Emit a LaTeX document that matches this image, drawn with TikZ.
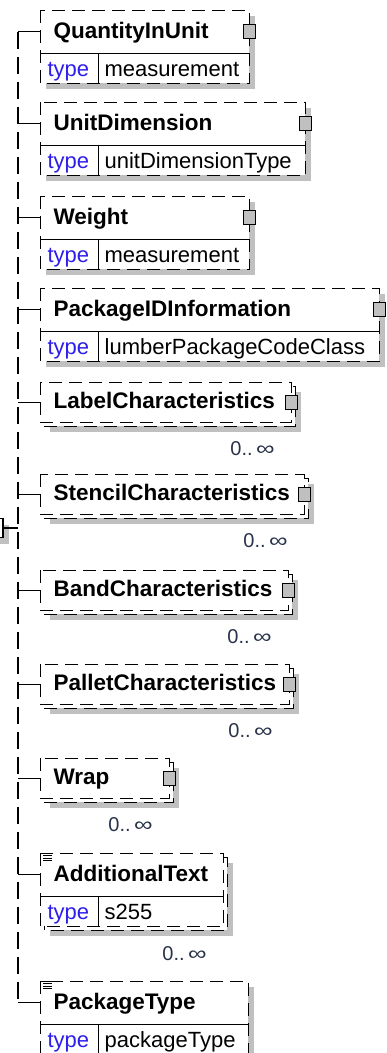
\documentclass[tikz,border=0pt]{standalone}
\usepackage{fontspec}
\setmainfont{Liberation Sans}
\usetikzlibrary{positioning, calc, backgrounds, shadows}
\hyphenpenalty=10000

\definecolor{typeblue}{RGB}{45,30,235}
\definecolor{occslate}{RGB}{40,50,72}
\definecolor{shadegray}{RGB}{192,192,192}

\begin{document}
\begin{tikzpicture}[x=1pt, y=-1pt, line width=1.1pt,
  ttl/.style={anchor=north west, inner xsep=13pt, inner ysep=0pt, text width=#1, align=left,
    minimum height=42pt, text height=17pt, text depth=4pt, font=\bfseries\fontsize{22.5}{27}\selectfont},
  ttlm/.style={ttl=#1, minimum height=39pt},
  tkey/.style={inner xsep=7pt, inner ysep=0pt, text width=43pt, align=left, minimum height=29pt,
    text height=16pt, text depth=0pt, text=typeblue, font=\fontsize{22}{26}\selectfont},
  tval/.style={inner xsep=6pt, inner ysep=0pt, minimum height=29pt, text height=16pt, text depth=0pt,
    font=\fontsize{22}{26}\selectfont},
  frm/.style={dash pattern=on 13pt off 7pt, fill=white},
  shd/.style={drop shadow={shadow xshift=6pt, shadow yshift=-6pt, fill=shadegray, opacity=1}},
  kids/.style={draw, fill=shadegray, minimum width=12pt, minimum height=14pt, inner sep=0pt},
  occ/.style={anchor=east, inner sep=0pt, text=occslate, font=\fontsize{20}{22}\selectfont},
  spn/.style={dash pattern=on 17pt off 8pt}
]
\useasboundingbox (0,0) rectangle (387,1053);

% elements of the sequence
\node[ttl=182pt] (qiu) at (40,10) {QuantityInUnit};
\node[tkey, below right=0pt of qiu.south west] (qiu-k) {type};
\node[tval, right=0pt of qiu-k] (qiu-v) {measurement};

\node[ttl=238pt] (udim) at (40,102) {UnitDimension};
\node[tkey, below right=0pt of udim.south west] (udim-k) {type};
\node[tval, right=0pt of udim-k] (udim-v) {unitDimensionType};

\node[ttl=182pt] (wgt) at (40,196) {Weight};
\node[tkey, below right=0pt of wgt.south west] (wgt-k) {type};
\node[tval, right=0pt of wgt-k] (wgt-v) {measurement};

\node[ttl=312pt] (pkid) at (40,288) {PackageIDInformation};
\node[tkey, below right=0pt of pkid.south west] (pkid-k) {type};
\node[tval, right=0pt of pkid-k] (pkid-v) {lumberPackageCodeClass};

\node[ttlm=224pt] (lbl) at (40,382) {LabelCharacteristics};
\node[ttlm=237pt] (stc) at (40,474) {StencilCharacteristics};
\node[ttlm=221pt] (bnd) at (40,570) {BandCharacteristics};
\node[ttlm=222pt] (plt) at (40,664) {PalletCharacteristics};
\node[ttlm=102pt] (wrp) at (40,758) {Wrap};

\node[ttl=156pt] (atx) at (40,853) {AdditionalText};
\node[tkey, below right=0pt of atx.south west] (atx-k) {type};
\node[tval, right=0pt of atx-k] (atx-v) {s255};

\node[ttl=181pt] (ptp) at (40,981) {PackageType};
\node[tkey, below right=0pt of ptp.south west] (ptp-k) {type};
\node[tval, right=0pt of ptp-k] (ptp-v) {packageType};

\foreach \n in {qiu,udim,wgt,pkid,atx,ptp}
  \coordinate (\n-br) at (\n.east |- \n-k.south);
\foreach \n in {lbl,stc,bnd,plt,wrp}
  \coordinate (\n-br) at (\n.south east);

% dashed frames, single and repeated
\begin{scope}[on background layer]
  \foreach \n in {qiu,udim,wgt,pkid,ptp}
    \draw[frm, shd] (\n.north west) rectangle (\n-br);
  \foreach \n in {lbl,stc,bnd,plt,wrp,atx} {
    \draw[frm, shd] ($(\n.north west)+(4,4)$) rectangle ($(\n-br)+(4,4)$);
    \draw[frm] (\n.north west) rectangle (\n-br);
  }
\end{scope}

\foreach \n in {qiu,udim,wgt,pkid,atx,ptp} {
  \draw (\n.south west) -- (\n.south east);
  \draw (\n-k.north east) -- (\n-k.south east);
}

% child markers and occurrences
\foreach \n in {qiu,udim,wgt,pkid,lbl,stc,bnd,plt,wrp}
  \node[kids] (\n-c) at (\n.east) {};
\foreach \n in {lbl,stc,bnd,plt,wrp,atx}
  \node[occ] (\n-o) at ($(\n-br)+(-16,27)$) {0..\,\scalebox{1.3}[1]{∞}};

% text content icons
\foreach \n in {atx,ptp} {
  \draw[line width=0.9pt] ($(\n.north west)+(0,8)$) -- (\n.north west) -- ++(13,0);
  \draw[line width=0.8pt] ($(\n.north west)+(3,2.5)$) -- ++(9,0)
    ($(\n.north west)+(3,5)$) -- ++(9,0) ($(\n.north west)+(3,7.5)$) -- ++(9,0);
}

% sequence and its branches
\node[draw, fill=white, minimum width=24pt, minimum height=19pt, shd] (seq) at (-9,528) {};
\coordinate (sp) at (18,528);
\draw (seq.east) -- (sp);
\draw[spn] (sp |- qiu.west) -- (sp |- ptp.west);
\foreach \n in {qiu,udim,wgt,pkid,lbl,stc,bnd,plt,wrp,atx,ptp}
  \draw (sp |- \n.west) -- (\n.west);
\end{tikzpicture}
\end{document}
